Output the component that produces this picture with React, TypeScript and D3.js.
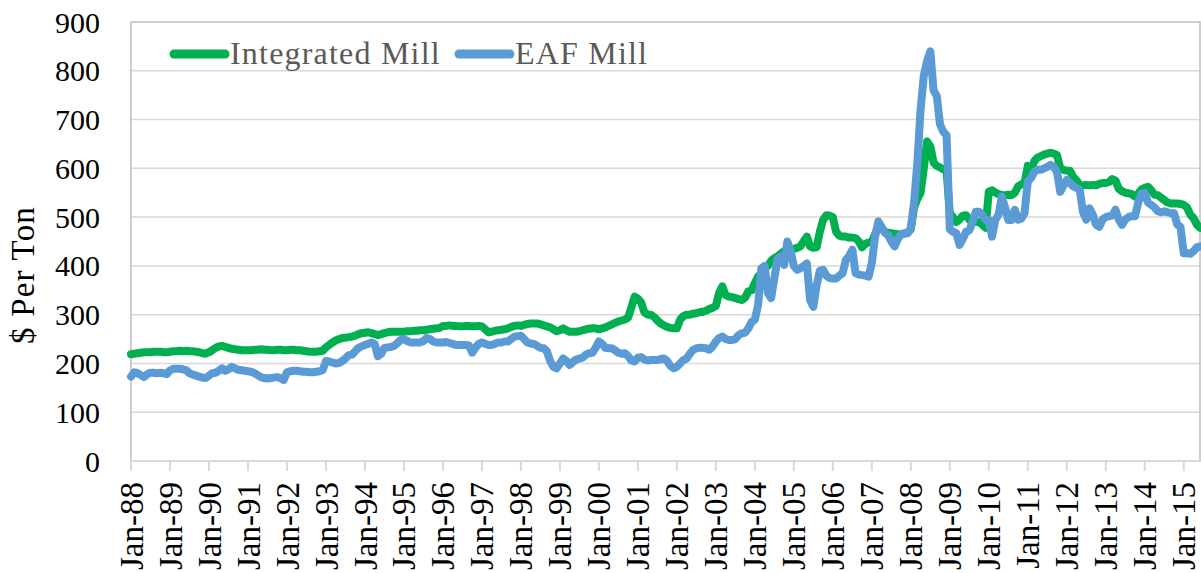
import { useEffect, useRef } from 'react'
import * as d3 from 'd3'

// monthly values, Jan-88 .. Jun-15, $ per ton
const integratedMill = [
  219, 220, 221, 222, 223, 223, 223, 224, 224, 224, 223, 223, // 1988
  224, 225, 225, 226, 225, 226, 225, 225, 224, 223, 221, 220, // 1989
  223, 227, 232, 235, 236, 234, 232, 230, 229, 228, 227, 227, // 1990
  227, 227, 228, 228, 229, 228, 228, 227, 227, 228, 228, 227, // 1991
  227, 228, 228, 227, 227, 226, 225, 224, 224, 224, 225, 226, // 1992
  233, 238, 243, 247, 250, 252, 253, 254, 255, 257, 260, 262, // 1993
  263, 264, 262, 260, 258, 260, 262, 264, 265, 265, 265, 265, // 1994
  265, 266, 266, 267, 267, 268, 268, 269, 270, 271, 272, 273, // 1995
  277, 277, 278, 277, 277, 276, 276, 277, 277, 276, 276, 277, // 1996
  276, 270, 264, 265, 267, 268, 269, 270, 272, 275, 277, 278, // 1997
  277, 279, 281, 282, 282, 282, 280, 278, 276, 274, 270, 266, // 1998
  268, 272, 268, 265, 265, 265, 266, 268, 270, 271, 272, 272, // 1999
  270, 272, 274, 277, 280, 283, 286, 288, 290, 294, 315, 337, // 2000
  333, 325, 305, 300, 300, 295, 288, 282, 278, 275, 273, 272, // 2001
  272, 290, 297, 300, 300, 302, 303, 305, 306, 308, 312, 314, // 2002
  318, 345, 358, 340, 337, 336, 334, 332, 330, 335, 348, 350, // 2003
  365, 378, 385, 395, 400, 410, 416, 420, 425, 430, 432, 433, // 2004
  435, 437, 440, 450, 460, 440, 437, 438, 470, 494, 504, 503, // 2005
  500, 470, 462, 460, 460, 458, 458, 457, 450, 438, 445, 448, // 2006
  450, 465, 480, 478, 470, 468, 467, 466, 465, 465, 466, 468, // 2007
  475, 520, 537, 550, 600, 655, 645, 612, 605, 602, 598, 596, // 2008
  508, 500, 490, 495, 503, 504, 495, 490, 490, 490, 485, 478, // 2009
  552, 555, 550, 547, 545, 545, 546, 545, 550, 563, 567, 570, // 2010
  605, 595, 615, 622, 625, 628, 630, 632, 630, 627, 600, 597, // 2011
  595, 595, 582, 575, 566, 565, 566, 565, 566, 565, 568, 570, // 2012
  570, 572, 578, 575, 558, 553, 550, 549, 547, 542, 548, 557, // 2013
  560, 562, 555, 546, 545, 540, 535, 530, 528, 528, 528, 527, // 2014
  525, 520, 505, 498, 485, 478, // 2015
]

const eafMill = [
  173, 182, 180, 176, 172, 178, 181, 181, 180, 181, 180, 178, // 1988
  186, 189, 189, 189, 188, 186, 180, 177, 175, 173, 171, 170, // 1989
  175, 180, 181, 185, 190, 185, 188, 193, 190, 187, 186, 185, // 1990
  184, 183, 180, 176, 172, 170, 169, 170, 171, 172, 170, 166, // 1991
  182, 184, 185, 185, 184, 183, 183, 182, 182, 183, 184, 186, // 1992
  205, 204, 202, 200, 201, 205, 210, 217, 218, 225, 232, 235, // 1993
  238, 240, 243, 240, 215, 220, 232, 233, 234, 236, 242, 248, // 1994
  250, 246, 243, 243, 243, 243, 246, 252, 250, 245, 243, 243, // 1995
  243, 244, 242, 240, 238, 238, 238, 238, 237, 222, 232, 240, // 1996
  243, 240, 238, 238, 240, 243, 243, 245, 245, 250, 255, 256, // 1997
  257, 250, 243, 241, 240, 236, 232, 231, 225, 205, 193, 190, // 1998
  200, 210, 205, 197, 203, 208, 210, 212, 218, 221, 222, 232, // 1999
  245, 240, 232, 231, 231, 227, 222, 220, 221, 215, 206, 204, // 2000
  212, 213, 208, 206, 207, 207, 207, 209, 210, 205, 195, 190, // 2001
  193, 200, 207, 210, 220, 228, 231, 232, 232, 231, 228, 235, // 2002
  245, 252, 255, 250, 248, 248, 250, 258, 262, 263, 272, 285, // 2003
  290, 320, 395, 400, 345, 334, 375, 415, 419, 402, 450, 430, // 2004
  400, 392, 395, 400, 405, 330, 316, 360, 390, 392, 380, 375, // 2005
  374, 374, 380, 385, 412, 420, 433, 385, 382, 381, 380, 378, // 2006
  406, 460, 491, 480, 468, 463, 450, 440, 455, 465, 467, 467, // 2007
  477, 530, 610, 720, 790, 820, 840, 760, 748, 690, 675, 668, // 2008
  475, 470, 467, 443, 455, 470, 473, 490, 511, 511, 505, 494, // 2009
  494, 460, 494, 505, 542, 520, 494, 494, 515, 495, 497, 508, // 2010
  573, 580, 593, 597, 597, 600, 603, 607, 603, 592, 552, 565, // 2011
  576, 570, 563, 560, 555, 510, 495, 518, 505, 485, 480, 495, // 2012
  500, 502, 503, 515, 495, 484, 495, 500, 502, 502, 530, 548, // 2013
  550, 530, 525, 520, 512, 510, 512, 510, 508, 508, 485, 480, // 2014
  426, 426, 425, 430, 438, 440, // 2015
]

const tickLabels = [
  'Jan-88', 'Jan-89', 'Jan-90', 'Jan-91', 'Jan-92', 'Jan-93', 'Jan-94',
  'Jan-95', 'Jan-96', 'Jan-97', 'Jan-98', 'Jan-99', 'Jan-00', 'Jan-01',
  'Jan-02', 'Jan-03', 'Jan-04', 'Jan-05', 'Jan-06', 'Jan-07', 'Jan-08',
  'Jan-09', 'Jan-10', 'Jan-11', 'Jan-12', 'Jan-13', 'Jan-14', 'Jan-15',
]

const yTicks = [0, 100, 200, 300, 400, 500, 600, 700, 800, 900]

const series = [
  { name: 'Integrated Mill', values: integratedMill, color: '#00B050' },
  { name: 'EAF Mill', values: eafMill, color: '#5B9BD5' },
]

const W = 1201
const H = 573
const left = 131
const right = 1200
const top = 22
const bottom = 461
const font = "'Liberation Serif', 'Times New Roman', serif"

const App = () => {
  const svgRef = useRef<SVGSVGElement>(null)

  useEffect(() => {
    const svg = d3.select(svgRef.current)
    svg.selectAll('*').remove()

    const months = d3.range(integratedMill.length)
    const x = d3.scalePoint<number>().domain(months).range([left, right]).padding(0)
    const y = d3.scaleLinear().domain([0, 900]).range([bottom, top])

    // gridlines
    svg
      .append('g')
      .selectAll('line')
      .data(yTicks.filter((d) => d > 0 && d < 900))
      .join('line')
      .attr('x1', left)
      .attr('x2', right)
      .attr('y1', (d) => y(d))
      .attr('y2', (d) => y(d))
      .attr('stroke', '#D9D9D9')
      .attr('stroke-width', 1.5)

    svg
      .append('rect')
      .attr('x', left)
      .attr('y', top)
      .attr('width', right - left)
      .attr('height', bottom - top)
      .attr('fill', 'none')
      .attr('stroke', '#BFBFBF')
      .attr('stroke-width', 1.5)

    // x axis
    const xAxis = svg.append('g')
    xAxis
      .append('line')
      .attr('x1', left)
      .attr('x2', right)
      .attr('y1', bottom)
      .attr('y2', bottom)
      .attr('stroke', '#D9D9D9')
      .attr('stroke-width', 2)
    const tickG = xAxis
      .selectAll('g')
      .data(tickLabels)
      .join('g')
      .attr('transform', (d, i) => `translate(${x(i * 12)},0)`)
    tickG
      .append('line')
      .attr('y1', bottom)
      .attr('y2', bottom + 10)
      .attr('stroke', '#D9D9D9')
      .attr('stroke-width', 2)
    tickG
      .append('text')
      .text((d) => d)
      .attr('transform', `translate(0,${bottom + 21}) rotate(-90)`)
      .attr('dy', '0.35em')
      .attr('text-anchor', 'end')
      .attr('font-family', font)
      .attr('font-size', 33)
      .attr('fill', '#000')

    // y axis labels
    svg
      .append('g')
      .selectAll('text')
      .data(yTicks)
      .join('text')
      .text((d) => d)
      .attr('x', 100)
      .attr('y', (d) => y(d))
      .attr('dy', '0.35em')
      .attr('text-anchor', 'end')
      .attr('font-family', font)
      .attr('font-size', 30)
      .attr('fill', '#000')

    svg
      .append('text')
      .text('$ Per Ton')
      .attr('transform', `translate(22,275) rotate(-90)`)
      .attr('dy', '0.35em')
      .attr('text-anchor', 'middle')
      .attr('font-family', font)
      .attr('font-size', 33)
      .attr('letter-spacing', 1.2)
      .attr('fill', '#000')

    // lines
    const line = d3
      .line<number>()
      .x((d, i) => x(i) as number)
      .y((d) => y(d))
    svg
      .append('g')
      .selectAll('path')
      .data(series)
      .join('path')
      .attr('d', (d) => line(d.values))
      .attr('fill', 'none')
      .attr('stroke', (d) => d.color)
      .attr('stroke-width', 8)
      .attr('stroke-linejoin', 'round')
      .attr('stroke-linecap', 'round')

    // legend
    const legendX = [170, 455]
    const lg = svg
      .append('g')
      .selectAll('g')
      .data(series)
      .join('g')
      .attr('transform', (d, i) => `translate(${legendX[i]},54)`)
    lg.append('line')
      .attr('x1', 4)
      .attr('x2', 55)
      .attr('stroke', (d) => d.color)
      .attr('stroke-width', 9)
      .attr('stroke-linecap', 'round')
    lg.append('text')
      .text((d) => d.name)
      .attr('x', 60)
      .attr('y', 10)
      .attr('font-family', font)
      .attr('font-size', 32)
      .attr('letter-spacing', 1.2)
      .attr('fill', '#595959')
  }, [])

  return (
    <svg
      ref={svgRef}
      width={W}
      height={H}
      style={{ position: 'absolute', left: 0, top: 0, background: '#fff' }}
    ></svg>
  )
}

export default App
